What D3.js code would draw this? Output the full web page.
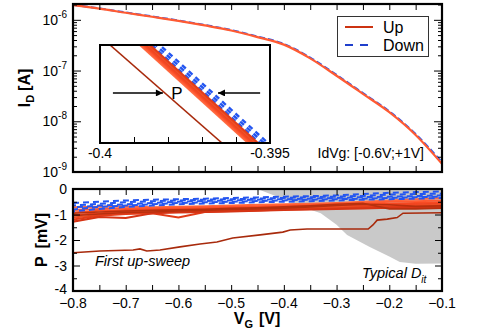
<!DOCTYPE html>
<html><head><meta charset="utf-8">
<script src="https://cdn.jsdelivr.net/npm/d3@7"></script>
<style>
html,body{margin:0;padding:0;background:#fff;}
svg{display:block;font-family:"Liberation Sans",Arial,Helvetica,sans-serif;}
</style></head>
<body><svg id="c" width="477" height="334"></svg>
<script>
// ---------- data ----------
const vgTop = [-0.8,-0.75,-0.7,-0.65,-0.6,-0.55,-0.5,-0.45,-0.4,-0.35,-0.3,-0.25,-0.2,-0.15,-0.1];
const idUp   = [1.95e-6,1.66e-6,1.38e-6,1.15e-6,9.55e-7,7.76e-7,6.17e-7,4.57e-7,3.24e-7,1.74e-7,7.9e-8,3.47e-8,1.51e-8,5.37e-9,1.45e-9];
const idDown = [1.97e-6,1.68e-6,1.40e-6,1.17e-6,9.7e-7,7.9e-7,6.3e-7,4.7e-7,3.35e-7,1.8e-7,8.2e-8,3.6e-8,1.57e-8,5.6e-9,1.55e-9];
const decadeTicks = [1e-9,1e-8,1e-7,1e-6];
const decadeLabels = ["-9","-8","-7","-6"];

// inset (zoom around Vg = -0.4 .. -0.395)
const insetTickLabels = ["-0.4","-0.395"];
const insetI = [3e-8, 2e-8];               // current at inset top / bottom
const insetFirst = [-0.399706, -0.396412];   // first up-sweep
const insetUpTop = [-0.398824,-0.398765,-0.398706,-0.398647,-0.398588,-0.398529];
const insetUpBot = [-0.395647,-0.395588,-0.395529,-0.395471,-0.395412,-0.395353];
const insetDnTop = [-0.398480,-0.398360,-0.398240];
const insetDnBot = [-0.395300,-0.395180,-0.395060];
const arrowLeft = [-0.39962,-0.39815], arrowRight = [-0.39529,-0.39653], arrowI = 2.46e-8, labelP_V = -0.39774;

// P vs VG
const vgBot = [-0.8,-0.75,-0.7,-0.65,-0.6,-0.55,-0.5,-0.45,-0.4,-0.35,-0.3,-0.25,-0.2,-0.15,-0.1];
const pUp = [
 [-0.72,-0.70,-0.68,-0.72,-0.70,-0.68,-0.65,-0.62,-0.60,-0.58,-0.55,-0.50,-0.45,-0.40,-0.35],
 [-0.82,-0.78,-0.75,-0.75,-0.74,-0.72,-0.70,-0.68,-0.65,-0.62,-0.58,-0.55,-0.50,-0.48,-0.45],
 [-0.92,-0.85,-0.82,-0.80,-0.78,-0.76,-0.74,-0.72,-0.70,-0.66,-0.62,-0.60,-0.58,-0.55,-0.52],
 [-1.02,-0.95,-0.90,-0.86,-0.84,-0.82,-0.80,-0.76,-0.73,-0.70,-0.68,-0.66,-0.62,-0.60,-0.58],
 [-1.12,-1.02,-0.95,-0.90,-0.88,-0.85,-0.82,-0.80,-0.76,-0.74,-0.72,-0.70,-0.68,-0.66,-0.62],
 [-1.20,-1.05,-0.98,-0.95,-1.12,-0.90,-0.86,-0.84,-0.80,-0.78,-0.75,-0.72,-0.70,-0.70,-0.68],
 [-1.28,-1.10,-1.14,-0.95,-0.92,-0.90,-0.88,-0.85,-0.82,-0.80,-0.78,-0.76,-0.74,-0.72,-0.75]
];
const pUpDark = [
 [-0.95,-0.90,-0.86,-0.84,-0.82,-0.80,-0.76,-0.74,-0.70,-0.66,-0.60,-0.56,-0.78,-0.78,-0.75],
 [-1.05,-0.98,-0.92,-0.90,-0.86,-0.84,-0.80,-0.78,-0.75,-0.70,-0.65,-0.60,-0.62,-0.68,-0.66]
];
const pDown = [
 [-0.55,-0.50,-0.45,-0.42,-0.40,-0.38,-0.35,-0.33,-0.30,-0.28,-0.25,-0.20,-0.15,-0.12,-0.10],
 [-0.65,-0.58,-0.52,-0.48,-0.45,-0.42,-0.40,-0.38,-0.35,-0.32,-0.30,-0.27,-0.22,-0.20,-0.18],
 [-0.72,-0.65,-0.60,-0.55,-0.50,-0.47,-0.45,-0.42,-0.40,-0.38,-0.35,-0.32,-0.30,-0.28,-0.25],
 [-0.80,-0.70,-0.65,-0.60,-0.55,-0.52,-0.50,-0.47,-0.45,-0.42,-0.40,-0.38,-0.35,-0.32,-0.30],
 [-0.88,-0.78,-0.70,-0.65,-0.60,-0.57,-0.55,-0.52,-0.50,-0.48,-0.45,-0.42,-0.40,-0.38,-0.35]
];
const firstV = [-0.8,-0.749,-0.686,-0.673,-0.66,-0.635,-0.597,-0.559,-0.527,-0.497,-0.445,-0.402,-0.388,-0.356,-0.293,-0.240,-0.231,-0.223,-0.204,-0.185,-0.174,-0.1];
const firstP = [-2.5,-2.43,-2.39,-2.35,-2.43,-2.39,-2.27,-2.16,-2.08,-1.92,-1.8,-1.69,-1.61,-1.57,-1.57,-1.57,-1.41,-1.22,-1.18,-1.12,-0.95,-0.93];
const ditV = [-0.45,-0.40,-0.366,-0.33,-0.30,-0.28,-0.237,-0.20,-0.18,-0.15,-0.10];
const ditP = [-0.0,-0.4,-0.7,-0.95,-1.4,-1.8,-2.27,-2.65,-2.86,-2.93,-2.92];
const xTickLabels = [-0.8,-0.7,-0.6,-0.5,-0.4,-0.3,-0.2,-0.1];
const pTicks = [0,-1,-2,-3,-4];

// ---------- layout ----------
const svg = d3.select("#c");
const xL=73, xR=442, t1=4, b1=172, t2=189, b2=291;
const x = d3.scaleLinear().domain([-0.8,-0.1]).range([xL,xR]);
const yI = d3.scaleLog().domain([1e-9,2.05e-6]).range([b1,t1]);
const yP = d3.scaleLinear().domain([-4,0]).range([b2,t2]);
const orangeCols = ["#ff6a40","#ff5a32","#f84c24","#f04420","#ee4e24","#e23c18","#d63414"];
const blue = "#2456f0";

const defs = svg.append("defs");
defs.append("clipPath").attr("id","c1").append("rect").attr("x",xL).attr("y",t1).attr("width",xR-xL).attr("height",b1-t1);
defs.append("clipPath").attr("id","c2").append("rect").attr("x",xL).attr("y",t2).attr("width",xR-xL).attr("height",b2-t2);

// ---------- top panel ----------
const g1 = svg.append("g").attr("clip-path","url(#c1)");
const lineI = d3.line().x(d=>x(d[0])).y(d=>yI(d[1])).curve(d3.curveMonotoneX);
g1.append("path").attr("d",lineI(vgTop.map((v,i)=>[v,idDown[i]]))).attr("fill","none")
  .attr("stroke",blue).attr("stroke-width",2).attr("stroke-dasharray","6,3");
g1.append("path").attr("d",lineI(vgTop.map((v,i)=>[v,idUp[i]]))).attr("fill","none")
  .attr("stroke","#ff5a32").attr("stroke-width",2.2);

// top panel ticks
const xTicksAll = d3.range(-0.8,-0.099,0.05);
function xAxes(yTop, yBot){
  svg.append("g").attr("transform",`translate(0,${yBot})`)
    .call(d3.axisBottom(x).tickValues(xTicksAll).tickSize(-6).tickSizeOuter(0).tickFormat(""));
  svg.append("g").attr("transform",`translate(0,${yTop})`)
    .call(d3.axisTop(x).tickValues(xTicksAll).tickSize(-6).tickSizeOuter(0).tickFormat(""));
}
xAxes(t1,b1);
const minorLog = [];
for (let e=-9;e<=-6;e++) for (let k=2;k<=9;k++){ const v=k*Math.pow(10,e); if (v<2.05e-6) minorLog.push(v); }
[["L",xL],["R",xR]].forEach(([s,px])=>{
  const ax = s==="L"? d3.axisLeft(yI) : d3.axisRight(yI);
  svg.append("g").attr("transform",`translate(${px},0)`).call(ax.tickValues(decadeTicks).tickSize(-8).tickSizeOuter(0).tickFormat(""));
  const ax2 = s==="L"? d3.axisLeft(yI) : d3.axisRight(yI);
  svg.append("g").attr("transform",`translate(${px},0)`).call(ax2.tickValues(minorLog).tickSize(-4).tickSizeOuter(0).tickFormat(""));
});
// decade labels
decadeTicks.forEach((v,i)=>{
  const t = svg.append("text").attr("x",67).attr("y",yI(v)+5).attr("text-anchor","end").attr("font-size",14);
  t.append("tspan").text("10");
  t.append("tspan").attr("font-size",10).attr("dy",-7).text(decadeLabels[i]);
});
svg.selectAll(".domain").remove();

// legend
svg.append("rect").attr("x",337.5).attr("y",16.5).attr("width",91).attr("height",40).attr("fill","#fff").attr("stroke","#333").attr("stroke-width",1);
svg.append("line").attr("x1",345).attr("x2",373).attr("y1",27).attr("y2",27).attr("stroke","#cc3311").attr("stroke-width",2);
svg.append("line").attr("x1",345).attr("x2",373).attr("y1",45).attr("y2",45).attr("stroke","#1f3fcc").attr("stroke-width",2).attr("stroke-dasharray","8,7");
svg.append("text").attr("x",383).attr("y",33).attr("font-size",16).text("Up");
svg.append("text").attr("x",383).attr("y",51).attr("font-size",16).text("Down");

// IdVg text
svg.append("text").attr("x",424).attr("y",158).attr("text-anchor","end").attr("font-size",14).text("IdVg: [-0.6V;+1V]");

// ---------- inset ----------
const ix = d3.scaleLinear().domain([-0.4,-0.395]).range([100,270]);
const iy = d3.scaleLog().domain([2e-8,3e-8]).range([143,45]);
defs.append("clipPath").attr("id","ci").append("rect").attr("x",100).attr("y",45).attr("width",170).attr("height",98);
svg.append("rect").attr("x",100).attr("y",45).attr("width",170).attr("height",98).attr("fill","#fff");
const gi = svg.append("g").attr("clip-path","url(#ci)");
const seg = (a,b)=>d3.line()([[ix(a),iy(insetI[0])],[ix(b),iy(insetI[1])]]);
const dashOff = [0,3,6,1,4];
insetDnTop.forEach((v,i)=>gi.append("path").attr("d",seg(v,insetDnBot[i])).attr("stroke",blue).attr("stroke-width",2.4).attr("stroke-dasharray","5,4").attr("stroke-dashoffset",dashOff[i]).attr("fill","none"));
insetUpTop.forEach((v,i)=>gi.append("path").attr("d",seg(v,insetUpBot[i])).attr("stroke",orangeCols[i]).attr("stroke-width",2).attr("fill","none"));
gi.append("path").attr("d",seg(insetFirst[0],insetFirst[1])).attr("stroke","#a82a0c").attr("stroke-width",1.6).attr("fill","none");
// arrows
defs.append("marker").attr("id","ah").attr("viewBox","0 0 10 10").attr("refX",10).attr("refY",5)
  .attr("markerWidth",10).attr("markerHeight",7).attr("markerUnits","userSpaceOnUse").attr("orient","auto")
  .append("path").attr("d","M0,0L10,5L0,10Z").attr("fill","#000");
[arrowLeft,arrowRight].forEach(a=>{
  svg.append("line").attr("x1",ix(a[0])).attr("x2",ix(a[1])).attr("y1",iy(arrowI)).attr("y2",iy(arrowI))
    .attr("stroke","#000").attr("stroke-width",1.5).attr("marker-end","url(#ah)");
});
svg.append("text").attr("x",ix(labelP_V)).attr("y",iy(arrowI)+6).attr("text-anchor","middle").attr("font-size",17).text("P");
svg.append("g").attr("transform","translate(0,143)")
  .call(d3.axisBottom(ix).tickValues(d3.range(-0.399,-0.3955,0.001)).tickSize(-6).tickSizeOuter(0).tickFormat(""))
  .select(".domain").remove();
svg.append("rect").attr("x",100).attr("y",45).attr("width",170).attr("height",98).attr("fill","none").attr("stroke","#000").attr("stroke-width",2);
[-0.4,-0.395].forEach((v,i)=>svg.append("text").attr("x",ix(v)).attr("y",158).attr("text-anchor","middle").attr("font-size",14).text(insetTickLabels[i]));

svg.append("rect").attr("x",xL).attr("y",t1).attr("width",xR-xL).attr("height",b1-t1).attr("fill","none").attr("stroke","#000").attr("stroke-width",2.2);

// y title top
const ty = svg.append("text").attr("transform",`translate(30,${(t1+b1)/2}) rotate(-90)`).attr("text-anchor","middle")
  .attr("font-size",16).attr("font-weight","bold");
ty.append("tspan").text("I");
ty.append("tspan").attr("font-size",11).attr("dy",4).text("D");
ty.append("tspan").attr("dy",-4).attr("dx",4).text("[A]");

// ---------- bottom panel ----------
const g2 = svg.append("g").attr("clip-path","url(#c2)");
g2.append("path").attr("d",d3.area().x(d=>x(d[0])).y0(yP(0)).y1(d=>yP(d[1]))(ditV.map((v,i)=>[v,ditP[i]])))
  .attr("fill","#c9c9c9");
const lineP = d3.line().x(d=>x(d[0])).y(d=>yP(d[1]));
pUp.forEach((s,k)=>g2.append("path").attr("d",lineP(vgBot.map((v,i)=>[v,s[i]]))).attr("fill","none").attr("stroke",orangeCols[k]).attr("stroke-width",2));
pUpDark.forEach(s=>g2.append("path").attr("d",lineP(vgBot.map((v,i)=>[v,s[i]]))).attr("fill","none").attr("stroke","#b8300e").attr("stroke-width",1.6));
pDown.forEach((s,k)=>g2.append("path").attr("d",lineP(vgBot.map((v,i)=>[v,s[i]]))).attr("fill","none").attr("stroke",blue).attr("stroke-width",2).attr("stroke-dasharray","6,4").attr("stroke-dashoffset",dashOff[k]));
g2.append("path").attr("d",lineP(firstV.map((v,i)=>[v,firstP[i]]))).attr("fill","none").attr("stroke","#a82a0c").attr("stroke-width",1.6);

xAxes(t2,b2);
const pMinor = [-3.5,-2.5,-1.5,-0.5];
[["L",xL],["R",xR]].forEach(([s,px])=>{
  const mk = ()=> s==="L"? d3.axisLeft(yP) : d3.axisRight(yP);
  svg.append("g").attr("transform",`translate(${px},0)`).call(mk().tickValues(pTicks).tickSize(-7).tickSizeOuter(0).tickFormat(""));
  svg.append("g").attr("transform",`translate(${px},0)`).call(mk().tickValues(pMinor).tickSize(-4).tickSizeOuter(0).tickFormat(""));
});
svg.selectAll(".domain").remove();
svg.append("rect").attr("x",xL).attr("y",t2).attr("width",xR-xL).attr("height",b2-t2).attr("fill","none").attr("stroke","#000").attr("stroke-width",2.2);

pTicks.forEach(v=>svg.append("text").attr("x",67).attr("y",yP(v)+(v===-4?3:5)).attr("text-anchor","end").attr("font-size",14).text(String(v)));
xTickLabels.forEach(v=>svg.append("text").attr("x",x(v)).attr("y",308).attr("text-anchor","middle").attr("font-size",14).text(d3.format(".1f")(v)));

svg.append("text").attr("x",95).attr("y",266).attr("font-size",14.5).attr("font-style","italic").text("First up-sweep");
const td = svg.append("text").attr("x",362).attr("y",278).attr("font-size",14.5).attr("font-style","italic");
td.append("tspan").text("Typical D");
td.append("tspan").attr("font-size",10).attr("dy",5).text("it");

const tp = svg.append("text").attr("transform",`translate(47,${(t2+b2)/2}) rotate(-90)`).attr("text-anchor","middle")
  .attr("font-size",16).attr("font-weight","bold");
tp.append("tspan").text("P");
tp.append("tspan").attr("dx",8).text("[mV]");

const tx = svg.append("text").attr("x",257).attr("y",324).attr("text-anchor","middle").attr("font-size",16).attr("font-weight","bold");
tx.append("tspan").text("V");
tx.append("tspan").attr("font-size",11).attr("dy",4).text("G");
tx.append("tspan").attr("dy",-4).attr("dx",6).text("[V]");
</script></body></html>
